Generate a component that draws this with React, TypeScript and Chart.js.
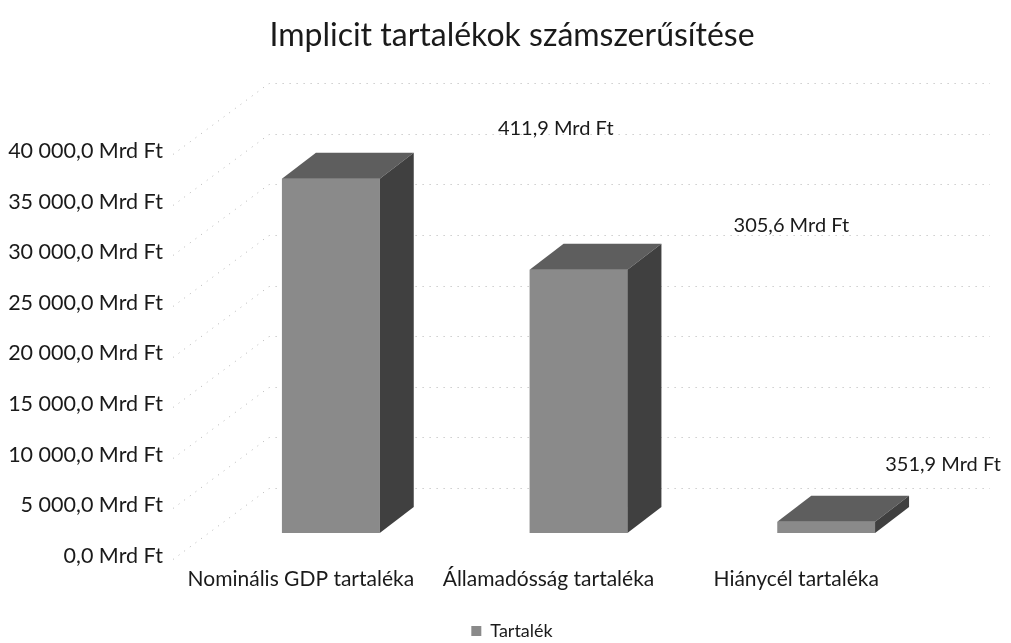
import { useEffect, useRef } from "react";
import { Chart, registerables } from "chart.js";

Chart.register(...registerables);

const chartTitle = "Implicit tartalékok számszerűsítése";
const seriesName = "Tartalék";
const categories = ["Nominális GDP tartaléka", "Államadósság tartaléka", "Hiánycél tartaléka"];
const values = [35000, 26000, 1100];
const valueLabels = ["411,9 Mrd Ft", "305,6 Mrd Ft", "351,9 Mrd Ft"];
const yTicks = [0, 5000, 10000, 15000, 20000, 25000, 30000, 35000, 40000];

const FONT = "Lato, 'Noto Sans', sans-serif";
const TEXT = "#1a1a1a";

function formatMrd(v: number): string {
  const s = Math.round(v).toString().replace(/\B(?=(\d{3})+(?!\d))/g, " ");
  return s + ",0 Mrd Ft";
}

// geometry of the pseudo-3D projection (pixel offsets, not data)
const BAR_FRONT = { x: 30, y: -23 };
const BAR_DEPTH = { x: 34, y: -26 };
const WALL = { x: 92, y: -68 };
const LABEL_OFFSETS = [
  { x: 142, y: -24 },
  { x: 130, y: -18 },
  { x: 34, y: -31 },
];

const threeD = {
  id: "threeD",
  beforeDatasetsDraw(chart: any) {
    const ctx = chart.ctx as CanvasRenderingContext2D;
    const area = chart.chartArea;
    const yScale = chart.scales.y;
    ctx.save();
    // wall gridlines (left wall diagonals + back wall horizontals)
    ctx.strokeStyle = "#b4b4b4";
    ctx.lineWidth = 1;
    ctx.setLineDash([1, 6]);
    yTicks.forEach((t) => {
      const y = Math.round(yScale.getPixelForValue(t)) + 0.5;
      ctx.beginPath();
      ctx.moveTo(area.left - 4, y + 3);
      ctx.lineTo(area.left + WALL.x, y + WALL.y);
      ctx.lineTo(area.right + 70, y + WALL.y);
      ctx.stroke();
    });
    ctx.setLineDash([]);

    const meta = chart.getDatasetMeta(0);
    meta.data.forEach((el: any, i: number) => {
      const { x, y, base, width } = el.getProps(["x", "y", "base", "width"], true);
      const l = x - width / 2 + BAR_FRONT.x;
      const r = x + width / 2 + BAR_FRONT.x;
      const t = y + BAR_FRONT.y;
      const b = base + BAR_FRONT.y;
      const dx = BAR_DEPTH.x;
      const dy = BAR_DEPTH.y;
      // front face
      ctx.fillStyle = "#8a8a8a";
      ctx.fillRect(l, t, r - l, b - t);
      // top face
      ctx.fillStyle = "#5e5e5e";
      ctx.beginPath();
      ctx.moveTo(l, t);
      ctx.lineTo(l + dx, t + dy);
      ctx.lineTo(r + dx, t + dy);
      ctx.lineTo(r, t);
      ctx.closePath();
      ctx.fill();
      // side face
      ctx.fillStyle = "#404040";
      ctx.beginPath();
      ctx.moveTo(r, t);
      ctx.lineTo(r + dx, t + dy);
      ctx.lineTo(r + dx, b + dy);
      ctx.lineTo(r, b);
      ctx.closePath();
      ctx.fill();

      // value label
      const off = LABEL_OFFSETS[i];
      ctx.fillStyle = TEXT;
      ctx.font = `20px ${FONT}`;
      ctx.textAlign = "center";
      ctx.textBaseline = "middle";
      ctx.fillText(valueLabels[i], r + dx + off.x, t + dy + off.y);
    });
    ctx.restore();
    return false;
  },
};

export default function App() {
  const ref = useRef<HTMLCanvasElement>(null);
  useEffect(() => {
    if (!ref.current) return;
    const chart = new Chart(ref.current, {
      type: "bar",
      data: {
        labels: categories,
        datasets: [
          {
            label: seriesName,
            data: values,
            backgroundColor: "#8a8a8a",
            borderWidth: 0,
            barPercentage: 0.395,
            categoryPercentage: 1,
          },
        ],
      },
      options: {
        animation: false,
        responsive: false,
        layout: { padding: { left: 0, right: -13, top: 0, bottom: -7 } },
        plugins: {
          title: {
            display: true,
            text: chartTitle,
            color: TEXT,
            font: { family: FONT, size: 32, weight: "normal" },
            padding: { top: 16, bottom: 96.6 },
          },
          legend: {
            position: "bottom",
            labels: {
              color: TEXT,
              font: { family: FONT, size: 18 },
              boxWidth: 10,
              boxHeight: 10,
              padding: 6,
            },
          },
          tooltip: { enabled: false },
        },
        scales: {
          x: {
            grid: { display: false, drawTicks: false },
            border: { display: false },
            ticks: { color: TEXT, font: { family: FONT, size: 21 }, padding: 11, maxRotation: 0 },
            afterFit: (scale: any) => {
              scale.height = 60;
            },
          },
          y: {
            min: 0,
            max: 40000,
            afterBuildTicks: (scale: any) => {
              scale.ticks = yTicks.map((v) => ({ value: v }));
            },
            afterFit: (scale: any) => {
              scale.width = 177;
            },
            grid: { display: false, drawTicks: false },
            border: { display: false },
            ticks: {
              color: TEXT,
              font: { family: FONT, size: 21.5 },
              padding: 14,
              callback: (v: any) => formatMrd(Number(v)),
            },
          },
          yRight: {
            type: "linear",
            axis: "y",
            position: "right",
            min: 0,
            max: 1,
            grid: { display: false, drawTicks: false },
            border: { display: false },
            ticks: { display: false },
            afterFit: (scale: any) => {
              scale.width = 104;
            },
          },
        },
      } as any,
      plugins: [threeD],
    });
    return () => chart.destroy();
  }, []);
  return (
    <div style={{ position: "absolute", left: 0, top: 0, width: 1011, height: 643, background: "#fff" }}>
      <canvas ref={ref} width={1011} height={643} />
    </div>
  );
}
